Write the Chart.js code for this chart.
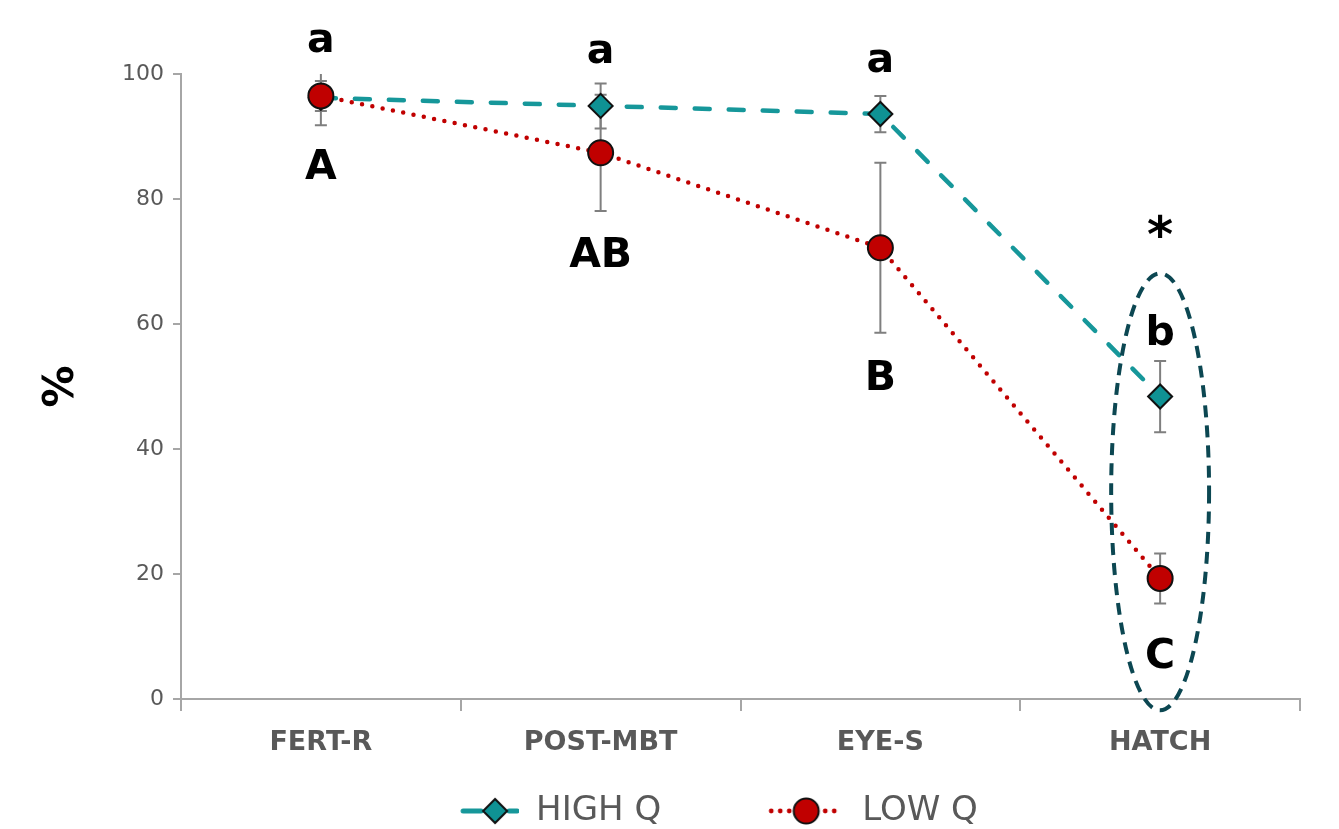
<!DOCTYPE html>
<html>
<head>
<meta charset="utf-8">
<script src="https://cdn.jsdelivr.net/npm/chart.js@4"></script>
<style>
  body { margin: 0; background: #fff; }
  #wrap { width: 1339px; height: 829px; }
</style>
</head>
<body>
<div id="wrap"><canvas id="chart"></canvas></div>
<script>
// stages and values (%)
const stages = ['FERT-R', 'POST-MBT', 'EYE-S', 'HATCH'];
const highQ = [96.2, 94.9, 93.6, 48.4];
const highQErr = [4.4, 3.6, 2.9, 5.7];
const lowQ = [96.5, 87.4, 72.2, 19.3];
const lowQErr = [2.4, 9.3, 13.6, 4.0];
const yTicks = [0, 20, 40, 60, 80, 100];

// significance letters (baseline placed at a value on the % axis)
const lowerLetters = ['a', 'a', 'a', 'b'];
const lowerLetterY = [103.5, 101.8, 100.4, 56.6];
const upperLetters = ['A', 'AB', 'B', 'C'];
const upperLetterY = [83.2, 69.1, 49.4, 5.0];
const starStage = 3;
const starY = 71.5;
// dashed ellipse round the HATCH pair
const ellipseTop = 68.1;
const ellipseBottom = -1.8;

const TEAL = '#16979a';
const TEAL_FILL = '#0f9294';
const RED = '#c00000';
const GREY = '#595959';
const AXIS = '#a6a6a6';
const FONT = "'DejaVu Sans', sans-serif";

// legend sample: blank space on the left, then line + marker
function legendIcon(kind) {
  const c = document.createElement('canvas');
  c.width = 160; c.height = 30;
  const g = c.getContext('2d');
  g.lineCap = 'round';
  if (kind === 'high') {
    g.strokeStyle = TEAL; g.lineWidth = 5;
    g.beginPath(); g.moveTo(104, 15); g.lineTo(122, 15); g.stroke();
    g.beginPath(); g.moveTo(150, 15); g.lineTo(158, 15); g.stroke();
    g.beginPath();
    g.moveTo(136, 3); g.lineTo(148, 15); g.lineTo(136, 27); g.lineTo(124, 15); g.closePath();
    g.fillStyle = TEAL_FILL; g.fill();
    g.lineWidth = 2; g.strokeStyle = '#111'; g.stroke();
  } else {
    g.fillStyle = RED;
    [86, 95, 104, 140, 149].forEach(x => { g.beginPath(); g.arc(x, 15, 2.4, 0, Math.PI * 2); g.fill(); });
    g.beginPath(); g.arc(121, 15, 12.5, 0, Math.PI * 2);
    g.fill(); g.lineWidth = 2; g.strokeStyle = '#111'; g.stroke();
  }
  return c;
}
const icons = [legendIcon('high'), legendIcon('low')];

const errorBars = {
  id: 'errorBars',
  beforeDatasetsDraw(chart) {
    const { ctx, chartArea, scales: { y } } = chart;
    const errs = [highQErr, lowQErr];
    ctx.save();
    ctx.strokeStyle = '#7f7f7f';
    ctx.lineWidth = 2;
    chart.data.datasets.forEach((ds, i) => {
      const meta = chart.getDatasetMeta(i);
      meta.data.forEach((pt, j) => {
        const v = ds.data[j], e = errs[i][j];
        let top = y.getPixelForValue(v + e);
        let bot = y.getPixelForValue(v - e);
        const capTop = top >= chartArea.top;
        const capBot = bot <= chartArea.bottom;
        top = Math.max(top, chartArea.top);
        bot = Math.min(bot, chartArea.bottom);
        ctx.beginPath();
        ctx.moveTo(pt.x, top); ctx.lineTo(pt.x, bot);
        if (capTop) { ctx.moveTo(pt.x - 6, top); ctx.lineTo(pt.x + 6, top); }
        if (capBot) { ctx.moveTo(pt.x - 6, bot); ctx.lineTo(pt.x + 6, bot); }
        ctx.stroke();
      });
    });
    ctx.restore();
  }
};

const annotations = {
  id: 'annotations',
  afterDatasetsDraw(chart) {
    const { ctx, scales: { x, y } } = chart;
    ctx.save();
    ctx.fillStyle = '#000';
    ctx.textAlign = 'center';
    ctx.textBaseline = 'alphabetic';
    ctx.font = 'bold 41px ' + FONT;
    stages.forEach((s, i) => {
      const cx = x.getPixelForValue(i);
      ctx.fillText(lowerLetters[i], cx, y.getPixelForValue(lowerLetterY[i]));
      ctx.fillText(upperLetters[i], cx, y.getPixelForValue(upperLetterY[i]));
    });
    ctx.font = 'bold 50px ' + FONT;
    ctx.fillText('*', x.getPixelForValue(starStage), y.getPixelForValue(starY));

    // ellipse
    const cx = x.getPixelForValue(starStage);
    const yt = y.getPixelForValue(ellipseTop), yb = y.getPixelForValue(ellipseBottom);
    const band = x.getPixelForValue(1) - x.getPixelForValue(0);
    ctx.beginPath();
    ctx.ellipse(cx, (yt + yb) / 2, band * 0.175, (yb - yt) / 2, 0, 0, Math.PI * 2);
    ctx.setLineDash([12, 8]);
    ctx.lineWidth = 4;
    ctx.strokeStyle = '#0c4752';
    ctx.stroke();
    ctx.restore();
  }
};

new Chart(document.getElementById('chart'), {
  type: 'line',
  data: {
    labels: stages,
    datasets: [
      {
        label: 'HIGH Q',
        data: highQ,
        order: 2,
        borderColor: TEAL,
        borderWidth: 4.5,
        borderDash: [15, 19],
        borderCapStyle: 'round',
        pointStyle: 'rectRot',
        pointRadius: 12,
        pointBackgroundColor: TEAL_FILL,
        pointBorderColor: '#111',
        pointBorderWidth: 2,
        tension: 0
      },
      {
        label: 'LOW Q',
        data: lowQ,
        order: 1,
        borderColor: RED,
        borderWidth: 4.5,
        borderDash: [0, 10.5],
        borderCapStyle: 'round',
        pointStyle: 'circle',
        pointRadius: 12.5,
        pointBackgroundColor: RED,
        pointBorderColor: '#111',
        pointBorderWidth: 2,
        tension: 0
      }
    ]
  },
  options: {
    responsive: true,
    maintainAspectRatio: false,
    animation: false,
    layout: { padding: { top: 74, right: 39, bottom: -9, left: 37 } },
    scales: {
      x: {
        offset: true,
        grid: { offset: true, drawOnChartArea: false, drawTicks: true, tickLength: 12, color: AXIS, lineWidth: 2 },
        border: { color: AXIS, width: 2 },
        ticks: { color: GREY, font: { family: FONT, size: 27, weight: 'bold' }, padding: 16 },
        afterFit(scale) { scale.height = 71; }
      },
      y: {
        min: 0,
        max: 100,
        afterBuildTicks(scale) { scale.ticks = yTicks.map(v => ({ value: v })); },
        grid: { drawOnChartArea: false, drawTicks: true, tickLength: 8, color: AXIS, lineWidth: 2 },
        border: { color: AXIS, width: 2 },
        ticks: { color: GREY, font: { family: FONT, size: 22 }, padding: 9 },
        title: { display: true, text: '%', color: '#000', font: { family: FONT, size: 42, weight: 'bold' }, padding: { top: 0, bottom: 0 } },
        afterFit(scale) { scale.width = 144; }
      }
    },
    plugins: {
      tooltip: { enabled: false },
      legend: {
        position: 'bottom',
        labels: {
          usePointStyle: true,
          pointStyleWidth: 160,
          color: GREY,
          font: { family: FONT, size: 34 },
          padding: 24,
          generateLabels(chart) {
            const items = Chart.defaults.plugins.legend.labels.generateLabels(chart);
            items.sort((a, b) => a.datasetIndex - b.datasetIndex);
            items.forEach(it => { it.pointStyle = icons[it.datasetIndex]; });
            return items;
          }
        }
      }
    }
  },
  plugins: [errorBars, annotations]
});
</script>
</body>
</html>
